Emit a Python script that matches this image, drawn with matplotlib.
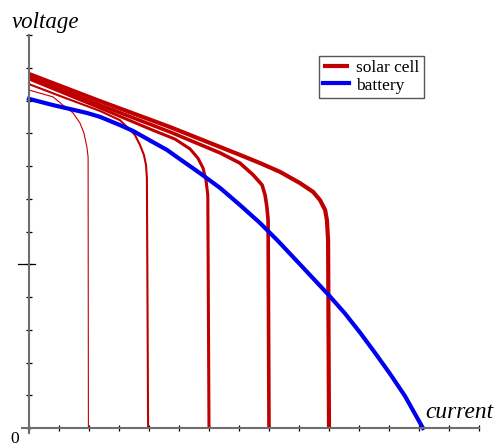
""" Solar cell vs battery I-V curves """

# librairies

import matplotlib as mpl
import matplotlib.pyplot as plt

# data (current and voltage in tick units)

solar_i_2 = [0.0, 0.80, 1.13, 1.47, 1.70, 1.83, 1.93, 1.97, 1.98]
solar_v_2 = [10.32, 10.11, 9.86, 9.62, 9.31, 9.01, 8.58, 8.27, 0.0]

solar_i_4 = [0.0, 1.03, 2.37, 3.03, 3.27, 3.53, 3.70, 3.83, 3.90, 3.93, 3.97]
solar_v_4 = [10.50, 10.14, 9.68, 9.40, 9.19, 8.95, 8.64, 8.34, 8.03, 7.63, 0.0]

solar_i_6 = [0.0, 2.37, 4.03, 4.87, 5.37, 5.63, 5.80, 5.90, 5.96, 6.0]
solar_v_6 = [10.66, 9.77, 9.13, 8.82, 8.52, 8.24, 7.94, 7.57, 7.11, 0.0]

solar_i_8 = [0.0, 2.37, 4.70, 6.37, 7.03, 7.47, 7.77, 7.87, 7.93, 7.97, 8.0]
solar_v_8 = [10.72, 9.86, 9.04, 8.40, 8.09, 7.73, 7.42, 7.11, 6.75, 6.35, 0.0]

solar_i_10 = [0.0, 2.37, 4.70, 6.37, 7.03, 7.70, 8.37, 9.03, 9.47, 9.70, 9.87, 9.93, 9.97, 10.0]
solar_v_10 = [10.81, 9.98, 9.19, 8.58, 8.34, 8.09, 7.82, 7.48, 7.21, 6.96, 6.66, 6.35, 5.74, 0.0]

battery_i = [0.0, 0.80, 1.93, 2.37, 3.03, 3.47, 4.13, 4.60, 5.03, 5.70, 6.37, 7.03,
             7.70, 8.27, 9.03, 10.0, 10.53, 11.03, 11.53, 12.03, 12.53, 13.13]
battery_v = [10.05, 9.86, 9.62, 9.50, 9.25, 9.07, 8.73, 8.49, 8.21, 7.78, 7.33, 6.81,
             6.26, 5.74, 5.00, 4.05, 3.50, 2.92, 2.30, 1.66, 0.98, 0.0]

x_ticks = list(range(0, 16))
y_ticks = list(range(0, 13))

# plots design

RED = '#c00000'
BLUE = '#0000f0'
SERIF = 'Liberation Serif'

fig = plt.figure(figsize=(4.99, 4.47), dpi=100)
ax = fig.add_axes([0.0431, 0.0315, 0.9168, 0.8902])
ax.set_xlim(-0.25, 15)
ax.set_ylim(-0.15, 12)

for side in ['top', 'right']:
    ax.spines[side].set_visible(False)
for side in ['left', 'bottom']:
    ax.spines[side].set_position(('data', 0))
    ax.spines[side].set_color('#6e6e6e')
    ax.spines[side].set_linewidth(1.5)

ax.set_xticks(x_ticks)
ax.set_yticks(y_ticks)
ax.set_xticklabels([])
ax.set_yticklabels([])
ax.tick_params(which='major', direction='inout', length=4.5, width=0.9, color='black')

# longer tick at the middle of y axis
ax.plot([-0.37, 0.2], [5, 5], color='black', lw=0.9, clip_on=False)

# solar cells

line_style = dict(color=RED, clip_on=False, solid_joinstyle='round', solid_capstyle='butt')
ax.plot(solar_i_2, solar_v_2, lw=0.8, **line_style)
ax.plot(solar_i_4, solar_v_4, lw=1.5, **line_style)
ax.plot(solar_i_6, solar_v_6, lw=2.2, **line_style)
ax.plot(solar_i_8, solar_v_8, lw=2.6, **line_style)
ax.plot(solar_i_10, solar_v_10, lw=3.0, label='solar cell', **line_style)

# battery

ax.plot(battery_i, battery_v, color=BLUE, lw=3.0, clip_on=False,
        solid_joinstyle='round', label='battery')

# legend and labels

leg = ax.legend(loc='upper left', bbox_to_anchor=(319 / 499, 1 - 56 / 447),
                bbox_transform=fig.transFigure, borderaxespad=0,
                fancybox=False, framealpha=1, edgecolor='#555555',
                prop={'family': SERIF, 'size': 12.5},
                handlelength=1.45, handletextpad=0.45, labelspacing=0.05,
                borderpad=0.25)
leg.get_frame().set_linewidth(1.0)

fig.text(12 / 499, 1 - 28 / 447, 'voltage', family=SERIF, style='italic',
         size=16.5, va='baseline', ha='left')
fig.text(425 / 499, 1 - 418 / 447, 'current', family=SERIF, style='italic',
         size=16.8, va='baseline', ha='left')
fig.text(10 / 499, 4 / 447, '0', family=SERIF, size=12.5, va='baseline', ha='left')

# save

plt.savefig('out.png', dpi=100)
